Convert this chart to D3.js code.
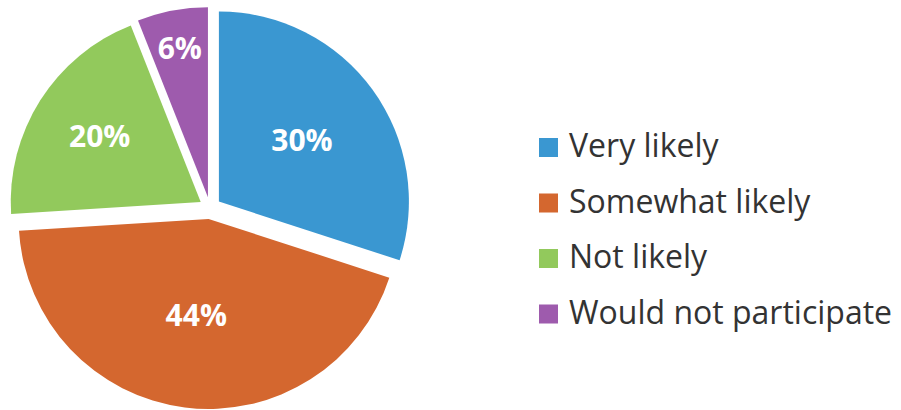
<!DOCTYPE html>
<html>
<head>
<meta charset="utf-8">
<script src="https://cdn.jsdelivr.net/npm/d3@7"></script>
<style>
  html, body { margin: 0; padding: 0; background: #ffffff; }
  svg { display: block; }
</style>
</head>
<body>
<svg id="chart" width="901" height="410"></svg>
<script>
// ---- data ----
const categories = ["Very likely", "Somewhat likely", "Not likely", "Would not participate"];
const values = [30, 44, 20, 6];
const valueLabels = ["30%", "44%", "20%", "6%"];
const colors = ["#3A97D1", "#D4672F", "#92C95C", "#9E5BAD"];

// ---- layout ----
const cx = 210, cy = 208, R = 190, explode = 11;
const labelRadiusFrac = [0.54, 0.52, 0.63, 0.79];
const legendX = 539, legendY0 = 157, legendStep = 55.5, sq = 19;

const svg = d3.select("#chart");

const data = categories.map((c, i) => ({ cat: c, value: values[i], label: valueLabels[i], color: colors[i], i }));

const pie = d3.pie().sort(null).value(d => d.value).startAngle(0).endAngle(2 * Math.PI);
const arcs = pie(data);
const arc = d3.arc().innerRadius(0).outerRadius(R);

const g = svg.append("g").attr("transform", `translate(${cx},${cy})`);

const slice = g.selectAll("g.slice").data(arcs).join("g")
  .attr("class", "slice")
  .attr("transform", d => {
    const a = (d.startAngle + d.endAngle) / 2;
    return `translate(${explode * Math.sin(a)},${-explode * Math.cos(a)})`;
  });

slice.append("path")
  .attr("d", arc)
  .attr("fill", d => d.data.color);

slice.append("text")
  .attr("x", d => { const a = (d.startAngle + d.endAngle) / 2; return R * labelRadiusFrac[d.data.i] * Math.sin(a); })
  .attr("y", d => { const a = (d.startAngle + d.endAngle) / 2; return -R * labelRadiusFrac[d.data.i] * Math.cos(a) - 2; })
  .attr("text-anchor", "middle")
  .attr("dominant-baseline", "central")
  .attr("font-family", "'Open Sans', sans-serif")
  .attr("font-weight", "bold")
  .attr("font-size", 30)
  .attr("fill", "#ffffff")
  .text(d => d.data.label);

// ---- legend ----
const leg = svg.append("g").selectAll("g").data(data).join("g")
  .attr("transform", d => `translate(${legendX},${legendY0 + legendStep * d.i})`);

leg.append("rect")
  .attr("x", 0).attr("y", -sq)
  .attr("width", sq).attr("height", sq)
  .attr("fill", d => d.color);

leg.append("text")
  .attr("x", 30).attr("y", 0)
  .attr("font-family", "'Open Sans', sans-serif")
  .attr("font-size", 32)
  .attr("fill", "#333333")
  .text(d => d.cat);
</script>
</body>
</html>
